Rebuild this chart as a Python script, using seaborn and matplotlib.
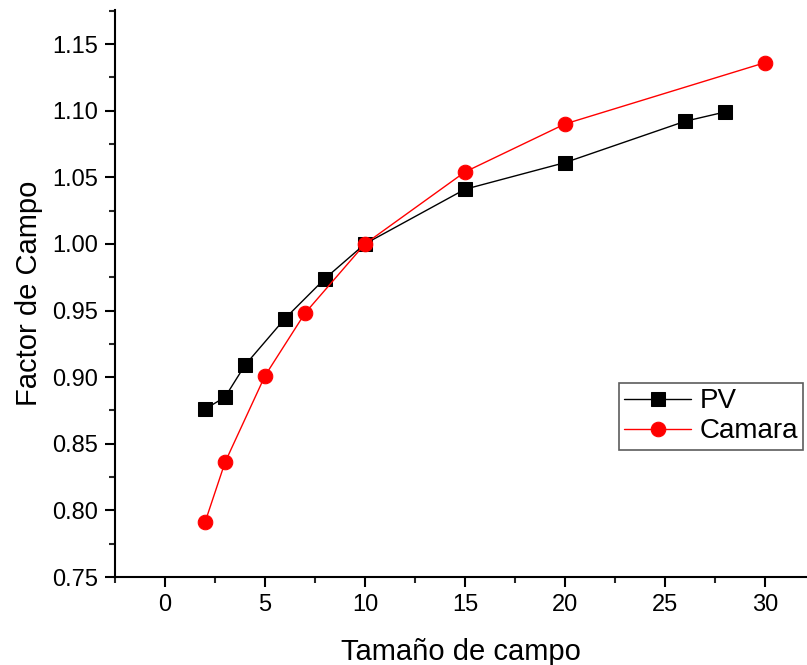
import matplotlib
matplotlib.use("Agg")
import matplotlib.pyplot as plt
import seaborn as sns
import pandas as pd
from matplotlib.ticker import MultipleLocator, FormatStrFormatter

pv_x = [2, 3, 4, 6, 8, 10, 15, 20, 26, 28]
pv_y = [0.876, 0.885, 0.909, 0.944, 0.974, 1.000, 1.041, 1.061, 1.092, 1.099]
cam_x = [2, 3, 5, 7, 10, 15, 20, 30]
cam_y = [0.791, 0.836, 0.901, 0.948, 1.000, 1.054, 1.090, 1.136]

sns.set_style("white")
plt.rcParams['font.family'] = ['Liberation Sans', 'DejaVu Sans']
plt.rcParams['text.color'] = 'black'
plt.rcParams['axes.labelcolor'] = 'black'

fig = plt.figure(figsize=(8.07, 6.65), dpi=100)
ax = fig.add_axes([0.1425, 0.1323, 0.8575, 0.8526])

pv = pd.DataFrame({"x": pv_x, "y": pv_y})
cam = pd.DataFrame({"x": cam_x, "y": cam_y})

sns.lineplot(data=pv, x="x", y="y", ax=ax, color="black", lw=1, marker="s",
             markersize=9.5, markeredgecolor="black", label="PV")
sns.lineplot(data=cam, x="x", y="y", ax=ax, color="red", lw=1, marker="o",
             markersize=10.5, markeredgecolor="red", label="Camara")

ax.set_xlim(-2.5, 32.1)
ax.set_ylim(0.75, 1.1755)
ax.xaxis.set_major_locator(MultipleLocator(5))
ax.xaxis.set_minor_locator(MultipleLocator(2.5))
ax.yaxis.set_major_locator(MultipleLocator(0.05))
ax.yaxis.set_minor_locator(MultipleLocator(0.025))
ax.yaxis.set_major_formatter(FormatStrFormatter('%.2f'))

for s in ["top", "right"]:
    ax.spines[s].set_visible(False)
for s in ["left", "bottom"]:
    ax.spines[s].set_linewidth(1.5)
    ax.spines[s].set_color("black")

ax.tick_params(axis="both", which="major", direction="out", length=7, width=1.5,
               labelsize=17, colors="black", bottom=True, left=True, pad=5)
ax.tick_params(axis="both", which="minor", direction="out", length=4, width=1.5,
               bottom=True, left=True)

ax.set_xlabel("Tamaño de campo", fontsize=21, labelpad=16, color="black")
ax.set_ylabel("Factor de Campo", fontsize=21, labelpad=7, color="black")

leg = ax.legend(loc="lower left", bbox_to_anchor=(0.728, 0.224), fontsize=20,
                frameon=True, fancybox=False, edgecolor="#333333",
                handlelength=2.4, borderpad=0.2, labelspacing=0.15,
                handletextpad=0.3, borderaxespad=0)
leg.get_frame().set_linewidth(1.2)
for t in leg.get_texts():
    t.set_color("black")

fig.savefig("out.png", dpi=100)
